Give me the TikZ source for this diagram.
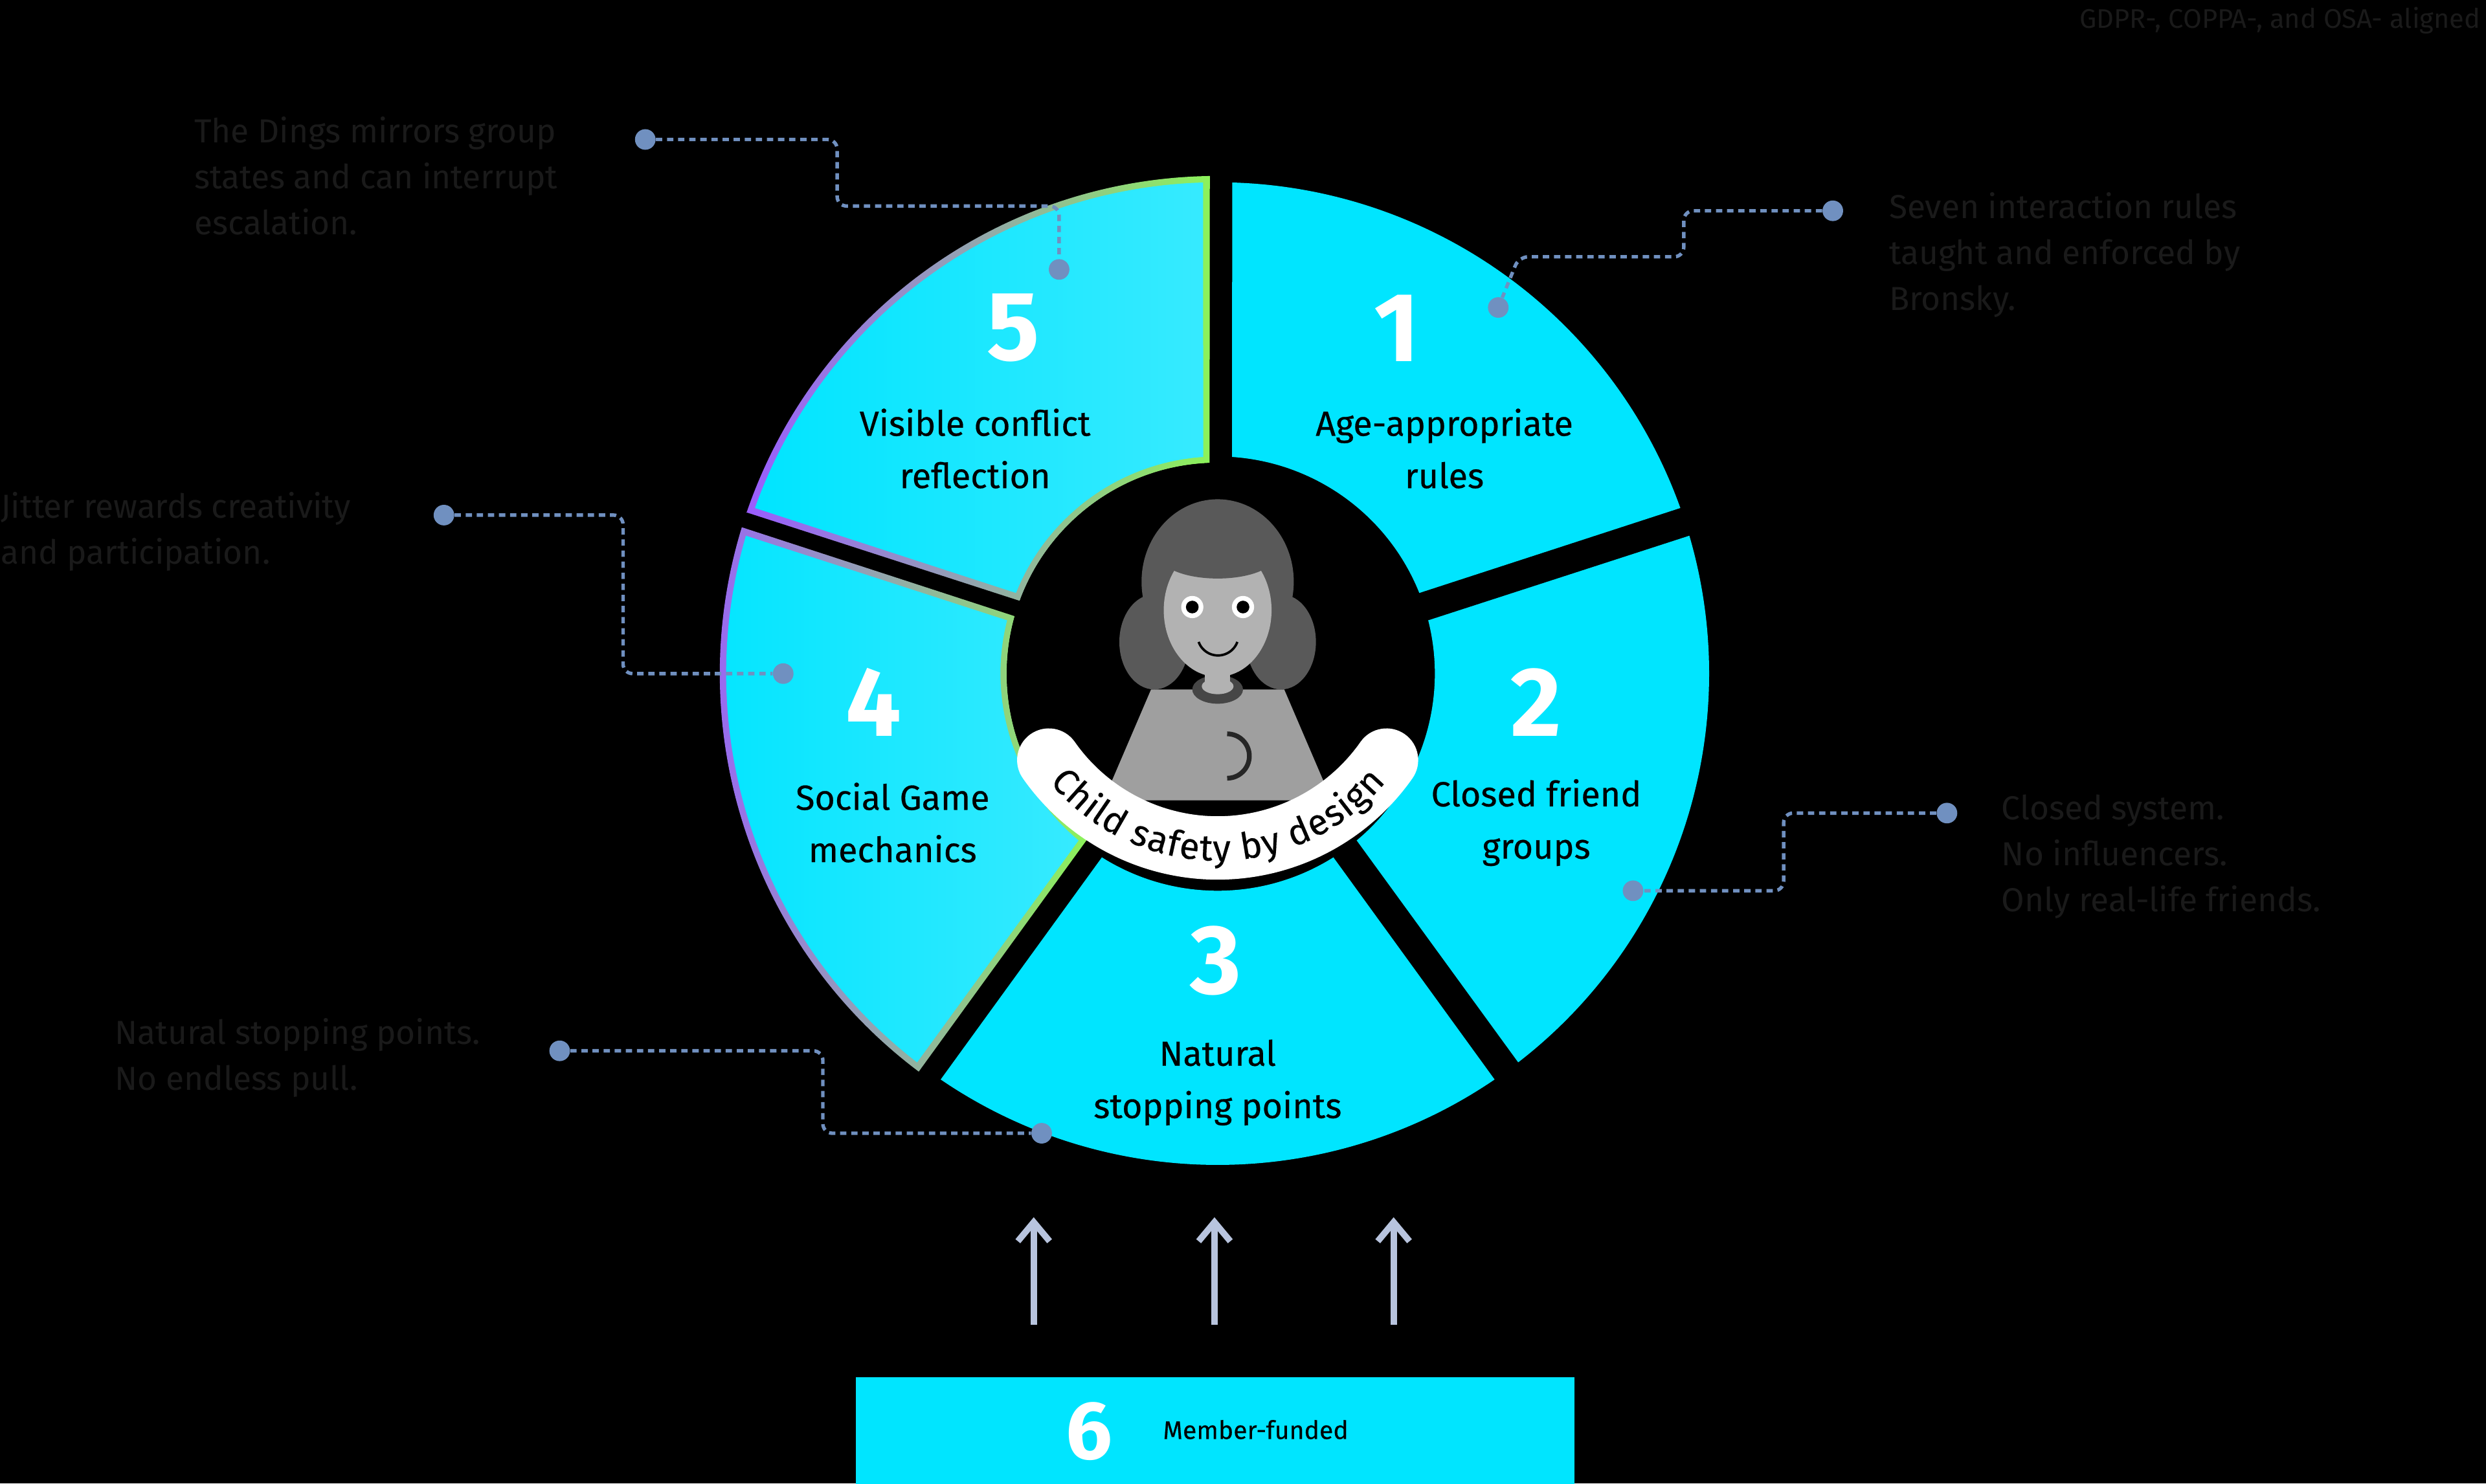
\documentclass[tikz,border=0pt]{standalone}
\usepackage{fontspec}
\setmainfont{Fira Sans}
\usetikzlibrary{arrows.meta}
\usetikzlibrary{decorations.text}
\usepackage{xcolor}

\definecolor{segcyan}{HTML}{00E5FF}
\definecolor{seglight}{HTML}{B4F6FF}
\definecolor{linkblue}{HTML}{7090C0}
\definecolor{notegrey}{HTML}{1A1A1A}
\definecolor{arrowgrey}{HTML}{B8C4DE}
\definecolor{rimpurple}{HTML}{9A5CFF}
\definecolor{rimgreen}{HTML}{8CF25A}

% sector of the ring: start angle, end angle, outer r, inner r, outer/inner angular gap
\newcommand\segpath[6]{({#1-#5}:#3) arc[start angle={#1-#5}, end angle={#2+#5}, radius=#3]
    -- ({#2+#6}:#4) arc[start angle={#2+#6}, end angle={#1-#6}, radius=#4] -- cycle}

\begin{document}
\begin{tikzpicture}[x=1pt, y=-1pt]
        % ================= styles =================
        \tikzset{
            num/.style={text=white, font=\fontsize{62}{62}\selectfont\bfseries},
            seglabel/.style={align=center, font=\fontsize{22}{33}\selectfont\addfontfeatures{FakeBold=0.4}},
            note/.style={anchor=north west, align=left, text=notegrey, font=\fontsize{21}{29}\selectfont},
            link/.style={linkblue, line width=2.2pt, dash pattern=on 4pt off 3pt, rounded corners=6pt},
            dot/.style={circle, fill=linkblue, inner sep=0pt, minimum size=13pt},
            up/.style={arrowgrey, line width=4pt, -{Straight Barb[length=12pt, width=20pt, line width=4pt]}}
        }

        \fill[black] (0,0) rectangle (1568,936);
        \useasboundingbox (0,0) rectangle (1568,936);

        % ================= ring =================
        \begin{scope}[shift={(768,425)}, y=1pt]
            \fill[segcyan] \segpath{90}{18}{310}{137}{1.7}{3.8};
            \fill[segcyan] \segpath{18}{-54}{310}{137}{1.7}{3.8};
            \fill[segcyan] \segpath{306}{234}{310}{137}{1.7}{3.8};
            % segments 4 and 5 with rim
            \shade[left color=rimpurple, right color=rimgreen] \segpath{234}{162}{314}{133}{0.9}{2.2};
            \shade[left color=rimpurple, right color=rimgreen] \segpath{162}{90}{314}{133}{0.9}{2.2};
            \shade[shading angle=60, left color=segcyan, middle color=seglight, right color=segcyan!70!seglight] \segpath{234}{162}{310}{137}{1.7}{3.8};
            \shade[shading angle=60, left color=segcyan, middle color=seglight, right color=segcyan!70!seglight] \segpath{162}{90}{310}{137}{1.7}{3.8};

            % child in the middle
            \begin{scope}
                \clip (0,0) circle (133);
                \fill[black] (0,0) circle (133);
                \fill[gray!70!black] (0,58) ellipse (48 and 52);
                \fill[gray!70!black] (-40,20) ellipse (22 and 30);
                \fill[gray!70!black] (40,20) ellipse (22 and 30);
                \fill[gray!75] (-42,-10) -- (42,-10) -- (72,-80) -- (-72,-80) -- cycle;
                \fill[gray!55!black] (0,-10) ellipse (16 and 9);
                \fill[gray!60] (0,-8) ellipse (10 and 5);
                \fill[gray!60] (-8,5) rectangle (8,-8);
                \fill[gray!60] (0,40) ellipse (34 and 42);
                \fill[gray!70!black] (0,74) ellipse (36 and 14);
                \fill[white] (-16,42) circle (7);
                \fill[white] (16,42) circle (7);
                \fill[black] (-16,42) circle (4);
                \fill[black] (16,42) circle (4);
                \draw[black, line width=1.5pt] (-12,20) arc[start angle=200, end angle=340, radius=13];
                \draw[gray!30!black, line width=3pt] (6,-38) arc[start angle=90, end angle=-90, radius=14];
            \end{scope}
            \draw[white, line width=40pt, line cap=round] (0,20) ++(215:130) arc[start angle=215, end angle=325, radius=130];
            \path[decorate, decoration={text along path, text align=center, raise=-8pt,
                text={|\fontsize{23}{23}\selectfont\addfontfeatures{FakeBold=0.3}|Child safety by design}}]
                (0,20) ++(208:130) arc[start angle=208, end angle=332, radius=130];
        \end{scope}

        % ================= numbers and labels =================
        \node[num] (n1) at (881,207) {1};
        \node[seglabel] (l1) at (911,283) {Age-appropriate\\rules};
        \node[num] (n2) at (969,443) {2};
        \node[seglabel] (l2) at (969,519) {Closed friend\\groups};
        \node[num] (n3) at (767,606) {3};
        \node[seglabel] (l3) at (768,683) {Natural\\stopping points};
        \node[num] (n4) at (551,443) {4};
        \node[seglabel] (l4) at (563,519) {Social Game\\mechanics};
        \node[num] (n5) at (639,207) {5};
        \node[seglabel] (l5) at (615,283) {Visible conflict\\reflection};

        % ================= notes =================
        \node[anchor=north east, text=notegrey, font=\fontsize{17}{17}\selectfont] (law) at (1568,1) {GDPR-, COPPA-, and OSA- aligned};
        \node[note] (t5) at (119,70) {The Dings mirrors group\\states and can interrupt\\escalation.};
        \node[note] (t1) at (1188,118) {Seven interaction rules\\taught and enforced by\\Bronsky.};
        \node[note] (t4) at (-3,307) {Jitter rewards creativity\\and participation.};
        \node[note] (t2) at (1259,498) {Closed system.\\No influencers.\\Only real-life friends.};
        \node[note] (t3) at (69,639) {Natural stopping points.\\No endless pull.};

        % ================= connectors =================
        \node[dot] (d5a) at (407,88) {};   \node[dot] (d5b) at (668,170) {};
        \node[dot] (d1a) at (1156,133) {}; \node[dot] (d1b) at (945,194) {};
        \node[dot] (d4a) at (280,325) {};  \node[dot] (d4b) at (494,425) {};
        \node[dot] (d2a) at (1228,513) {}; \node[dot] (d2b) at (1030,562) {};
        \node[dot] (d3a) at (353,663) {};  \node[dot] (d3b) at (657,715) {};
        \draw[link] (d5a) -- (528,88) -- (528,130) -- (668,130) -- (d5b);
        \draw[link] (d1a) -- (1062,133) -- (1062,162) -- (958,162) -- (d1b);
        \draw[link] (d4a) -- (393,325) -- (393,425) -- (d4b);
        \draw[link] (d2a) -- (1125,513) -- (1125,562) -- (d2b);
        \draw[link] (d3a) -- (519,663) -- (519,715) -- (d3b);

        % ================= base =================
        \node[fill=segcyan, minimum width=453pt, minimum height=68pt, inner sep=0pt] (base) at (766.5,903) {};
        \node[text=white, font=\fontsize{52}{52}\selectfont\bfseries] (n6) at (687,903) {6};
        \node[font=\fontsize{16}{16}\selectfont\addfontfeatures{FakeBold=0.3}] (l6) at (792,902) {Member-funded};
        \coordinate (a1) at (652,836); \coordinate (a2) at (766,836); \coordinate (a3) at (879,836);
        \foreach \a in {a1,a2,a3}
            \draw[up] (\a) -- ++(0,-68);
\end{tikzpicture}
\end{document}
